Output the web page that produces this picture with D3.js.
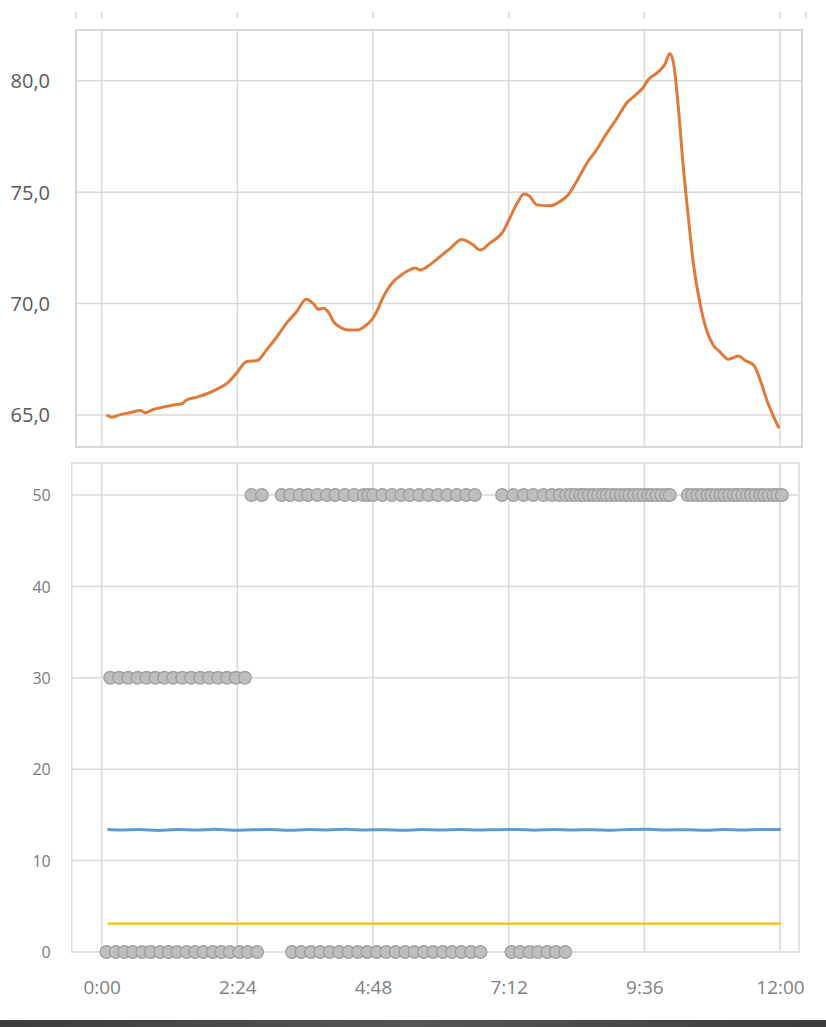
<!DOCTYPE html>
<html><head><meta charset="utf-8">
<script src="https://cdn.jsdelivr.net/npm/d3@7"></script>
<style>html,body{margin:0;padding:0;background:#fff;}svg{display:block;}</style>
</head><body>
<script>
// ---- data (time in minutes since 0:00) ----
const xTickMinutes = [0, 144, 288, 432, 576, 720];
const topTicks = [65, 70, 75, 80];
const bottomTicks = [0, 10, 20, 30, 40, 50];

const orangeTimes = [5,11,19,30,41,46,55,65,76,85,90,101,111,122,133,143,154,165,175,186,196,207,217,225,230,235,241,246,253,262,272,278,287,292,299,308,317,324,333,338,348,359,370,382,393,402,412,426,433,441,448,454,462,476,486,495,504,515,525,536,547,557,568,575,580,591,598,603,607,612,617,623,628,635,642,649,656,665,676,683,692,699,706,719];
const orangeVals = [65.0,64.9,65.0,65.1,65.2,65.1,65.25,65.35,65.45,65.5,65.67,65.8,65.94,66.15,66.42,66.87,67.4,67.44,67.92,68.51,69.11,69.64,70.19,69.98,69.74,69.79,69.59,69.19,68.94,68.81,68.81,68.94,69.29,69.64,70.31,70.91,71.25,71.45,71.6,71.51,71.73,72.1,72.48,72.88,72.67,72.4,72.71,73.23,73.83,74.5,74.92,74.83,74.43,74.39,74.57,74.87,75.47,76.3,76.89,77.64,78.32,78.99,79.41,79.71,80.04,80.41,80.75,81.23,80.79,78.84,76.3,73.75,71.81,70.01,68.81,68.14,67.84,67.5,67.65,67.44,67.24,66.57,65.67,64.4];

const blueTimes = [6,20,40,60,80,100,120,140,160,180,200,220,240,260,280,300,320,340,360,380,400,420,440,460,480,500,520,540,560,580,600,620,640,660,680,700,721];
const blueVals = [13.4,13.35,13.4,13.3,13.4,13.35,13.42,13.33,13.38,13.4,13.32,13.4,13.36,13.42,13.35,13.38,13.32,13.4,13.36,13.4,13.34,13.38,13.4,13.33,13.4,13.36,13.38,13.32,13.4,13.42,13.35,13.38,13.32,13.4,13.36,13.4,13.4];

const yellowTimes = [6, 721];
const yellowVals = [3.1, 3.1];

// grey markers, series A (30 / 50)
const greyATimes = [9,18.5,28,38,47.5,57,66.5,76,85.5,95,104.5,114,123.5,133,142.5,152,
  159,170,
  191,200,210,219,229,239,248,258,268,278,283,288,298,308,318,327,337,347,357,367,377,387,396,
  425,437,448,458,469,478,486,493,498,503,508,512,517,522,527,532,536,541,546,551,556,560,565,570,575,580,584,589,594,599,603,
  622,627,632,637,643,647,652,657,661,666,671,675,680,685,689,694,699,703,708,713,717,722];
const greyAVals = [30,30,30,30,30,30,30,30,30,30,30,30,30,30,30,30,
  50,50,
  50,50,50,50,50,50,50,50,50,50,50,50,50,50,50,50,50,50,50,50,50,50,50,
  50,50,50,50,50,50,50,50,50,50,50,50,50,50,50,50,50,50,50,50,50,50,50,50,50,50,50,50,50,50,50,
  50,50,50,50,50,50,50,50,50,50,50,50,50,50,50,50,50,50,50,50,50,50];
// grey markers, series B (0)
const greyBTimes = [5,15,24,33,43,52,62,71,80,90,99,108,118,127,136,146,155,165,
  202,212,222,232,242,252,262,272,282,292,302,312,322,332,342,352,362,372,382,392,402,
  435,444,454,463,473,482,492];
const greyBVals = greyBTimes.map(() => 0);

// ---- drawing ----
const W = 826, H = 1027;
const svg = d3.select("body").append("svg").attr("width", W).attr("height", H);
const gridC = "#d9d9d9";
const font = "'Open Sans', 'DejaVu Sans', sans-serif";

const x = d3.scaleLinear().domain([0, 720]).range([101.7, 780]);
const fmtTime = m => Math.floor(m / 60) + ":" + String(Math.round(m % 60)).padStart(2, "0");

// faint cut-off marks at top
const topMarks = svg.append("g");
[75.7, 806].concat(xTickMinutes.map(x)).forEach(px => {
  topMarks.append("rect").attr("x", px - 0.8).attr("y", 12).attr("width", 1.6).attr("height", 6).attr("fill", "#d6d6d6");
});

// ---- top panel ----
const T = {l: 76, r: 802, t: 30, b: 447};
const yT = d3.scaleLinear().domain([63.56, 82.28]).range([T.b, T.t]);
const gT = svg.append("g");
gT.selectAll("line.h").data(topTicks).join("line")
  .attr("x1", T.l).attr("x2", T.r).attr("y1", d => yT(d)).attr("y2", d => yT(d))
  .attr("stroke", gridC).attr("stroke-width", 1.5);
gT.selectAll("line.v").data(xTickMinutes).join("line")
  .attr("x1", d => x(d)).attr("x2", d => x(d)).attr("y1", T.t).attr("y2", T.b)
  .attr("stroke", gridC).attr("stroke-width", 1.5);
gT.append("rect").attr("x", T.l).attr("y", T.t).attr("width", T.r - T.l).attr("height", T.b - T.t)
  .attr("fill", "none").attr("stroke", "#d4d4d4").attr("stroke-width", 1.8);
const axT = svg.append("g").attr("transform", `translate(${T.l - 23},0)`)
  .call(d3.axisLeft(yT).tickValues(topTicks).tickSize(0).tickFormat(d => d3.format(".1f")(d).replace(".", ",")));
axT.select(".domain").remove();
axT.selectAll("text").attr("font-family", font).attr("font-size", 20).attr("fill", "#595959").attr("dy", "0.35em");

const orangeData = orangeTimes.map((t, i) => [t, orangeVals[i]]);
svg.append("path").datum(orangeData)
  .attr("d", d3.line().x(d => x(d[0])).y(d => yT(d[1])).curve(d3.curveMonotoneX))
  .attr("fill", "none").attr("stroke", "#e07a3a").attr("stroke-width", 3).attr("stroke-linejoin", "round");

// ---- bottom panel ----
const B = {l: 71.7, r: 799, t: 463, b: 952};
const yB = d3.scaleLinear().domain([0, 53.5]).range([B.b, B.t]);
const gB = svg.append("g");
gB.selectAll("line.h").data(bottomTicks.filter(d => d > 0)).join("line")
  .attr("x1", B.l).attr("x2", B.r).attr("y1", d => yB(d)).attr("y2", d => yB(d))
  .attr("stroke", gridC).attr("stroke-width", 1.5);
gB.selectAll("line.v").data(xTickMinutes).join("line")
  .attr("x1", d => x(d)).attr("x2", d => x(d)).attr("y1", B.t).attr("y2", B.b)
  .attr("stroke", gridC).attr("stroke-width", 1.5);
gB.append("rect").attr("x", B.l).attr("y", B.t).attr("width", B.r - B.l).attr("height", B.b - B.t)
  .attr("fill", "none").attr("stroke", "#dcdcdc").attr("stroke-width", 1.6);
const axB = svg.append("g").attr("transform", `translate(${B.l - 18},0)`)
  .call(d3.axisLeft(yB).tickValues(bottomTicks).tickSize(0).tickFormat(d3.format("d")));
axB.select(".domain").remove();
axB.selectAll("text").attr("font-family", font).attr("font-size", 16).attr("fill", "#7a7a7a").attr("dy", "0.35em");

const axX = svg.append("g").attr("transform", `translate(0,${B.b + 25})`)
  .call(d3.axisBottom(x).tickValues(xTickMinutes).tickSize(0).tickFormat(fmtTime));
axX.select(".domain").remove();
axX.selectAll("text").attr("font-family", font).attr("font-size", 19).attr("fill", "#7f7f7f").attr("dy", "0.71em");

const lineB = d3.line().x(d => x(d[0])).y(d => yB(d[1]));
svg.append("path").datum(yellowTimes.map((t, i) => [t, yellowVals[i]]))
  .attr("d", lineB).attr("fill", "none").attr("stroke", "#ffc000").attr("stroke-width", 2.4);
svg.append("path").datum(blueTimes.map((t, i) => [t, blueVals[i]]))
  .attr("d", lineB.curve(d3.curveMonotoneX)).attr("fill", "none").attr("stroke", "#5b9bd5").attr("stroke-width", 3);

const pts = greyATimes.map((t, i) => [t, greyAVals[i]]).concat(greyBTimes.map((t, i) => [t, greyBVals[i]]));
svg.append("g").selectAll("circle").data(pts).join("circle")
  .attr("cx", d => x(d[0])).attr("cy", d => yB(d[1])).attr("r", 6.3)
  .attr("fill", "#bebebe").attr("stroke", "#a0a0a0").attr("stroke-width", 1.4);

// dark strip at bottom
const grad = svg.append("defs").append("linearGradient").attr("id", "strip").attr("x1", 0).attr("x2", 1);
grad.append("stop").attr("offset", 0).attr("stop-color", "#3c3c3c");
grad.append("stop").attr("offset", 0.5).attr("stop-color", "#555555");
grad.append("stop").attr("offset", 1).attr("stop-color", "#3c3c3c");
svg.append("rect").attr("x", 0).attr("y", 1020).attr("width", W).attr("height", 7).attr("fill", "url(#strip)");
</script>
</body></html>
